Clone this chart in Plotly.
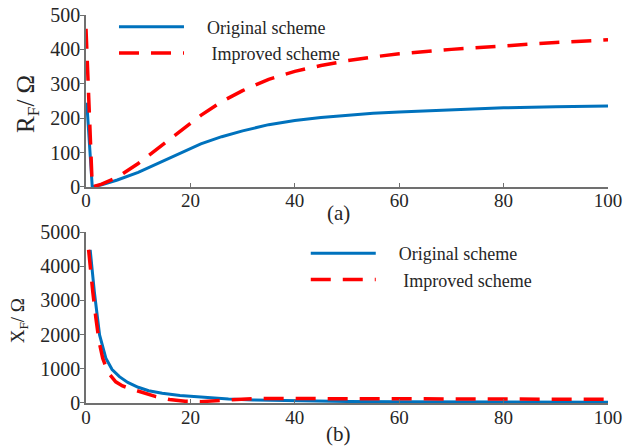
import plotly.graph_objects as go

# ---- data ----
ra_orig_x = [0.15, 1.2, 3, 6, 10, 14, 18, 22, 26, 30, 35, 40, 45, 50, 55, 60, 70, 80, 90, 100]
ra_orig_y = [245, 0, 6, 20, 42, 70, 99, 125, 146, 163, 181, 193, 202, 209, 214, 218, 225, 230, 233, 235]
ra_impr_x = [0, 1.2, 3, 6, 10, 14, 18, 22, 26, 30, 35, 40, 45, 50, 55, 60, 70, 80, 90, 100]
ra_impr_y = [460, 0, 8, 28, 68, 115, 162, 208, 248, 280, 313, 336, 353, 367, 378, 387, 400, 411, 420, 428]

xb_orig_x = [0.8, 1.6, 2.6, 3.8, 5, 6.4, 8, 10, 12, 14.6, 18, 21, 24, 27.3, 32, 40, 50, 60, 80, 100]
xb_orig_y = [4480, 3250, 1990, 1310, 980, 770, 600, 460, 360, 283, 220, 185, 150, 117, 90, 65, 45, 35, 25, 20]
xb_impr_x = [0.5, 0.9, 1.3, 1.9, 2.5, 3.2, 4.2, 5.7, 7, 8.3, 10, 13.4, 16, 19, 22, 25, 28, 32, 40, 60, 80, 100]
xb_impr_y = [4480, 3800, 3250, 2480, 1800, 1310, 900, 620, 500, 430, 340, 185, 100, 50, 40, 70, 110, 130, 130, 120, 112, 108]

x_ticks = [0, 20, 40, 60, 80, 100]
ra_ticks = [0, 100, 200, 300, 400, 500]
xb_ticks = [0, 1000, 2000, 3000, 4000, 5000]

name_orig = "\u00a0\u00a0\u00a0\u00a0Original scheme"
name_impr = "\u00a0\u00a0\u00a0\u00a0\u00a0Improved scheme"

BLUE = "#0072BD"
RED = "#FF0000"
FONT = "Liberation Serif"
AXC = "#707070"
TXT = "#262626"

fig = go.Figure()
fig.add_trace(go.Scatter(x=ra_orig_x, y=ra_orig_y, mode="lines", name=name_orig,
                         line=dict(color=BLUE, width=3), xaxis="x", yaxis="y", legend="legend"))
fig.add_trace(go.Scatter(x=ra_impr_x, y=ra_impr_y, mode="lines", name=name_impr,
                         line=dict(color=RED, width=3.5, dash="20px,12px"), xaxis="x", yaxis="y", legend="legend"))
fig.add_trace(go.Scatter(x=xb_orig_x, y=xb_orig_y, mode="lines", name=name_orig,
                         line=dict(color=BLUE, width=3), xaxis="x2", yaxis="y2", legend="legend2"))
fig.add_trace(go.Scatter(x=xb_impr_x, y=xb_impr_y, mode="lines", name=name_impr,
                         line=dict(color=RED, width=3.5, dash="20px,12px"), xaxis="x2", yaxis="y2", legend="legend2"))

xcommon = dict(range=[0, 100], tickvals=x_ticks, showline=True, linecolor=AXC, linewidth=1.5,
               ticks="inside", ticklen=4, tickcolor=AXC, showgrid=False, zeroline=False,
               tickfont=dict(family=FONT, size=19, color=TXT),
               ticklabelstandoff=-4, ticklabeloverflow="allow")
ycommon = dict(showline=True, linecolor=AXC, linewidth=1.5, ticks="outside", ticklen=4,
               tickcolor=AXC, showgrid=False, zeroline=False, ticklabelstandoff=-4,
               ticklabeloverflow="allow",
               tickfont=dict(family=FONT, size=20, color=TXT))

legcommon = dict(font=dict(family=FONT, size=18, color=TXT), bgcolor="rgba(0,0,0,0)",
                 xanchor="left", yanchor="top", itemwidth=65, tracegroupgap=0)

fig.update_layout(
    width=631, height=446,
    margin=dict(l=78, r=31, t=7, b=51, autoexpand=False),
    paper_bgcolor="white", plot_bgcolor="white",
    xaxis=dict(domain=[0, 1], anchor="y", **xcommon),
    yaxis=dict(domain=[0.557, 1], anchor="x", range=[0, 500], tickvals=ra_ticks, **ycommon),
    xaxis2=dict(domain=[0, 1], anchor="y2", **xcommon),
    yaxis2=dict(domain=[0, 0.4407], anchor="x2", range=[0, 5000], tickvals=xb_ticks, **ycommon),
    legend=dict(x=0.0536, y=1.0167, **legcommon),
    legend2=dict(x=0.421, y=0.433, **legcommon),
    annotations=[
        dict(text="(a)", x=0.483, y=0.4897, xref="paper", yref="paper", showarrow=False,
             font=dict(family=FONT, size=21, color=TXT), xanchor="center", yanchor="middle"),
        dict(text="(b)", x=0.483, y=-0.0799, xref="paper", yref="paper", showarrow=False,
             font=dict(family=FONT, size=21, color=TXT), xanchor="center", yanchor="middle"),
        dict(text="R<sub>F</sub>/ Ω", x=-0.113, y=0.7706, xref="paper", yref="paper", showarrow=False,
             textangle=-90, font=dict(family=FONT, size=25, color=TXT), xanchor="center", yanchor="middle"),
        dict(text="X<sub>F</sub>/ Ω", x=-0.128, y=0.211, xref="paper", yref="paper", showarrow=False,
             textangle=-90, font=dict(family=FONT, size=19, color=TXT), xanchor="center", yanchor="middle"),
    ],
)

fig.write_html("out.html")
